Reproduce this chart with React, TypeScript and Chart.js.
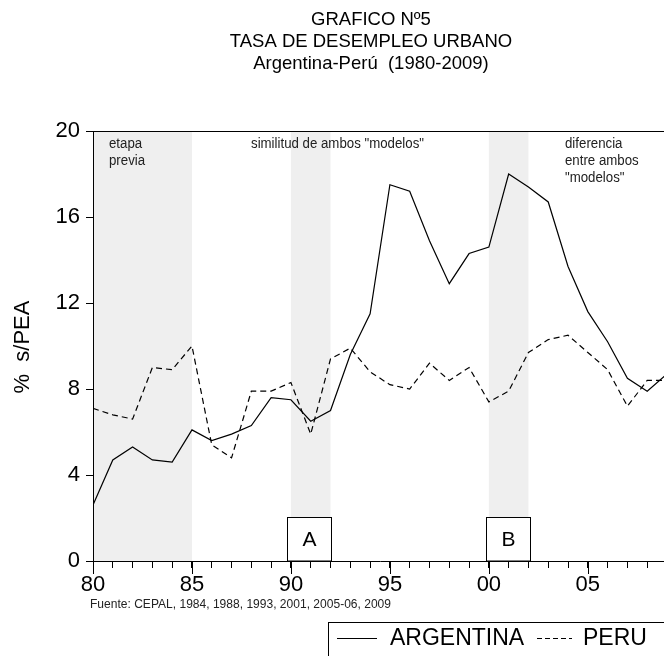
import React, { useEffect, useRef } from 'react';
import { Chart, registerables } from 'chart.js';

Chart.register(...registerables);

const years: number[] = [
  1980, 1981, 1982, 1983, 1984, 1985, 1986, 1987, 1988, 1989,
  1990, 1991, 1992, 1993, 1994, 1995, 1996, 1997, 1998, 1999,
  2000, 2001, 2002, 2003, 2004, 2005, 2006, 2007, 2008, 2009,
];
const argentina: number[] = [
  2.6, 4.7, 5.3, 4.7, 4.6, 6.1, 5.6, 5.9, 6.3, 7.6,
  7.5, 6.5, 7.0, 9.6, 11.5, 17.5, 17.2, 14.9, 12.9, 14.3,
  14.6, 18.0, 17.4, 16.7, 13.7, 11.6, 10.2, 8.5, 7.9, 8.7,
];
const peru: number[] = [
  7.1, 6.8, 6.6, 9.0, 8.9, 10.0, 5.4, 4.8, 7.9, 7.9,
  8.3, 5.9, 9.4, 9.9, 8.8, 8.2, 8.0, 9.2, 8.4, 9.0,
  7.4, 7.9, 9.7, 10.3, 10.5, 9.7, 8.9, 7.2, 8.4, 8.4,
];
const yTicks: number[] = [0, 4, 8, 12, 16, 20];
const bandStarts: number[] = [1980, 1990, 2000];
const bandEnds: number[] = [1985, 1992, 2002];
const boxLabels: string[] = ['A', 'B'];
const boxStarts: number[] = [1989.8, 1999.85];
const boxEnds: number[] = [1992, 2002.1];
const boxTops: number[] = [2.05, 2.05];
const titleLines: string[] = ['GRAFICO Nº5', 'TASA DE DESEMPLEO URBANO', 'Argentina-Perú  (1980-2009)'];
const sourceText = 'Fuente: CEPAL, 1984, 1988, 1993, 2001, 2005-06, 2009';

const SANS = '"Liberation Sans", Arial, sans-serif';

function narrowText(ctx: CanvasRenderingContext2D, text: string, x: number, y: number, size: number, sx: number) {
  ctx.save();
  ctx.font = `${size}px ${SANS}`;
  ctx.textAlign = 'left';
  ctx.textBaseline = 'middle';
  ctx.translate(x, y);
  ctx.scale(sx, 1);
  ctx.fillText(text, 0, 0);
  ctx.restore();
}

const decorPlugin = {
  id: 'decor',
  beforeDraw(chart: any) {
    const { ctx, chartArea } = chart;
    const xs = chart.scales.x;
    ctx.save();
    ctx.fillStyle = '#efefef';
    for (let i = 0; i < bandStarts.length; i++) {
      const x0 = xs.getPixelForValue(bandStarts[i]);
      const x1 = xs.getPixelForValue(bandEnds[i]);
      ctx.fillRect(x0, chartArea.top, x1 - x0, chartArea.bottom - chartArea.top);
    }
    ctx.restore();
  },
  afterDatasetsDraw(chart: any) {
    const { ctx, chartArea } = chart;
    const xs = chart.scales.x;
    const ys = chart.scales.y;
    ctx.save();
    // boxes A, B
    for (let i = 0; i < boxLabels.length; i++) {
      const x0 = Math.round(xs.getPixelForValue(boxStarts[i])) + 0.5;
      const x1 = Math.round(xs.getPixelForValue(boxEnds[i])) + 0.5;
      const y0 = Math.round(ys.getPixelForValue(boxTops[i])) + 0.5;
      const y1 = ys.getPixelForValue(0);
      ctx.fillStyle = '#fff';
      ctx.fillRect(x0, y0, x1 - x0, y1 - y0);
      ctx.strokeStyle = '#000';
      ctx.lineWidth = 1;
      ctx.strokeRect(x0, y0, x1 - x0, y1 - y0);
      ctx.fillStyle = '#000';
      ctx.font = `21px ${SANS}`;
      ctx.textAlign = 'center';
      ctx.textBaseline = 'middle';
      ctx.fillText(boxLabels[i], (x0 + x1) / 2, (y0 + y1) / 2 + 1);
    }
    // top border
    ctx.strokeStyle = '#000';
    ctx.lineWidth = 1;
    ctx.beginPath();
    ctx.moveTo(chartArea.left, Math.round(chartArea.top) + 0.5);
    ctx.lineTo(chartArea.right, Math.round(chartArea.top) + 0.5);
    ctx.stroke();
    // longer major ticks
    ctx.beginPath();
    for (let v = 1980; v <= 2009; v += 5) {
      const x = Math.round(xs.getPixelForValue(v)) + 0.5;
      ctx.moveTo(x, chartArea.bottom);
      ctx.lineTo(x, chartArea.bottom + 13);
    }
    ctx.stroke();
    // annotations (condensed)
    ctx.fillStyle = '#222';
    ctx.font = `14px ${SANS}`;
    const sAnn = 173 / ctx.measureText('similitud de ambos "modelos"').width;
    narrowText(ctx, 'etapa', 109, 144, 14, sAnn);
    narrowText(ctx, 'previa', 109, 161, 14, sAnn);
    narrowText(ctx, 'similitud de ambos "modelos"', 251, 144, 14, sAnn);
    narrowText(ctx, 'diferencia', 565, 144, 14, sAnn);
    narrowText(ctx, 'entre ambos', 565, 161, 14, sAnn);
    narrowText(ctx, '"modelos"', 565, 178, 14, sAnn);
    // source
    ctx.font = `13px ${SANS}`;
    const sSrc = 301 / ctx.measureText(sourceText).width;
    narrowText(ctx, sourceText, 90, 604, 13, sSrc);
    // title
    ctx.fillStyle = '#000';
    ctx.font = `18.5px ${SANS}`;
    ctx.textAlign = 'center';
    ctx.textBaseline = 'middle';
    titleLines.forEach((t, i) => ctx.fillText(t, 371, 20 + i * 22));
    // y label
    ctx.save();
    ctx.translate(23, 347);
    ctx.rotate(-Math.PI / 2);
    ctx.font = `22px ${SANS}`;
    ctx.fillText('%  s/PEA', 0, 0);
    ctx.restore();
    // legend
    ctx.strokeStyle = '#000';
    ctx.lineWidth = 1;
    ctx.strokeRect(328.5, 622.5, 400, 60);
    ctx.beginPath();
    ctx.moveTo(337, 638.5);
    ctx.lineTo(377, 638.5);
    ctx.stroke();
    ctx.setLineDash([5, 3]);
    ctx.beginPath();
    ctx.moveTo(537, 638.5);
    ctx.lineTo(572, 638.5);
    ctx.stroke();
    ctx.setLineDash([]);
    ctx.fillStyle = '#000';
    ctx.font = `23px ${SANS}`;
    ctx.textAlign = 'left';
    ctx.textBaseline = 'middle';
    ctx.fillText('ARGENTINA', 390, 639);
    ctx.fillText('PERU', 583, 639);
    ctx.restore();
  },
};

export default function App() {
  const ref = useRef<HTMLCanvasElement | null>(null);
  useEffect(() => {
    if (!ref.current) return;
    const chart = new Chart(ref.current, {
      type: 'line',
      data: {
        datasets: [
          {
            label: 'ARGENTINA',
            data: years.map((x, i) => ({ x, y: argentina[i] })),
            borderColor: '#000',
            borderWidth: 1.2,
            pointRadius: 0,
            tension: 0,
            fill: false,
          },
          {
            label: 'PERU',
            data: years.map((x, i) => ({ x, y: peru[i] })),
            borderColor: '#000',
            borderWidth: 1.2,
            borderDash: [6, 4],
            pointRadius: 0,
            tension: 0,
            fill: false,
          },
        ],
      },
      options: {
        responsive: false,
        animation: false,
        events: [],
        layout: { padding: { top: 131, left: 0, right: 53, bottom: 0 } },
        plugins: { legend: { display: false }, tooltip: { enabled: false }, title: { display: false } },
        scales: {
          x: {
            type: 'linear',
            min: 1980,
            max: 2009,
            afterFit: (s: any) => { s.height = 95; },
            afterBuildTicks: (s: any) => { s.ticks = years.map((v) => ({ value: v })); },
            ticks: {
              autoSkip: false,
              maxRotation: 0,
              padding: 4,
              color: '#000',
              font: { family: SANS, size: 22 },
              callback: (v: any) => (Number(v) % 5 === 0 ? String(Number(v) % 100).padStart(2, '0') : ''),
            },
            grid: { display: true, drawOnChartArea: false, drawTicks: true, tickLength: 7, color: '#000', tickColor: '#000' },
            border: { display: true, color: '#000', width: 1 },
          },
          y: {
            min: 0,
            max: 20,
            afterFit: (s: any) => { s.width = 93; },
            afterBuildTicks: (s: any) => { s.ticks = yTicks.map((v) => ({ value: v })); },
            ticks: { padding: 6, color: '#000', font: { family: SANS, size: 22 } },
            grid: { display: true, drawOnChartArea: false, drawTicks: true, tickLength: 7, color: '#000', tickColor: '#000' },
            border: { display: true, color: '#000', width: 1 },
          },
        },
      },
      plugins: [decorPlugin],
    });
    return () => chart.destroy();
  }, []);
  return (
    <div style={{ position: 'absolute', left: 0, top: 0, width: 664, height: 656, overflow: 'hidden', background: '#fff' }}>
      <canvas ref={ref} width={720} height={656} style={{ display: 'block' }} />
    </div>
  );
}
